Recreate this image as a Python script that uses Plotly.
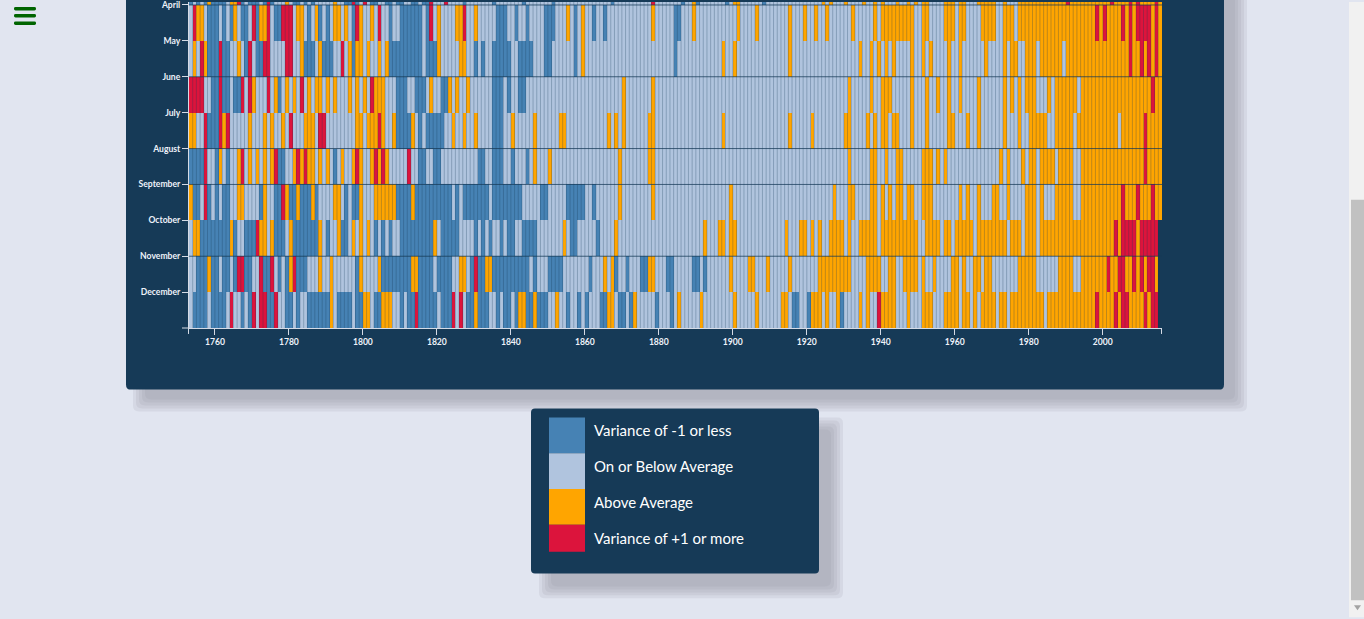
import plotly.graph_objects as go

# Monthly temperature variance category, one letter per year from 1753.
# D = variance of -1 or less, L = on or below average,
# O = above average, R = variance of +1 or more
years = list(range(1753, 2016))
month_names = ["January", "February", "March", "April", "May", "June", "July",
               "August", "September", "October", "November", "December"]

mar_cells = ["DLDLDODDDD", "LOORDLDDDL", "DRDLLLOLDD", "LDLDLLLLLO", "LLDDRDLRLD", "DLLDDLDDLL", "DDLDDR",
             "LLLRLLLLDL", "LLLLLLDLLL", "LLLLDLLLLL", "LLDLLLLLLL", "LLLLLLLLDL", "LLLLLLLLLR", "LLLLLL",
             "LDLLODLLLL", "LLLDLOOLLL", "LLLDLLLLLL", "LLLLLLLLLO", "LOLLLOLLLL", "OLLOLOLLLO", "LLOLOL",
             "OOLLLLOOOL", "OOLLLOOOOO", "LLOLLLOOOO", "OOOOOOOOOR", "OOOOOOOOOO", "OROOOORORO", "OOORO"]
apr_cells = ["LROOLDDDLD", "LDOLDDLRDO", "ORLDDRRRLO", "OLDLODLDLO", "OLOLDROLLO", "LRLLDLLDDD", "DDDLDR",
             "LOLLLLOORL", "LOLLLLLDDD", "LLDLLDLLLL", "DDDLLLOLDL", "OLLDLLDLLL", "LLLLLLLLLO", "LLLLLD",
             "DLLLOLLLLL", "LLLLLLOLLL", "LOLLLLLLLL", "OLLLOLLOLL", "OLLLLLLOLL", "LLLOLOOOOO", "OOOOLL",
             "OOLLLLOOOL", "OOLLLLOOOO", "LLOOOLOOOO", "OOOOOOOOOO", "OOOOOOOROR", "OOOORORORR", "RRORO"]
may_cells = ["LOLRODDDRD", "DLLOLDRLDD", "RRLLLLRRLL", "ODDDLODDDL", "LRLODOOLOL", "LOLODDDDDD", "DDDLDD",
             "DOLLLLLOOL", "LDLDLLDDDD", "DLLDDDDLLL", "DDLLLLLLDL", "OLLLLLLLLL", "LLLLLLLLLL", "LLLLLD",
             "LLLLLLLLLL", "LLOLLOLLLL", "LLLLLLLLLL", "OLLLLLLLLL", "LLLLLLLLLO", "LLOLOLOLOL", "LLLOLL",
             "OLOLLLLOLL", "OLLLLLLOLL", "LLOLOOLLOO", "OLOOOOOOLO", "OOOOOOOOOO", "OOOOOOROOR", "ORORO"]
jun_cells = ["RRRRLLDDRD", "DLDDRLROLL", "LRLODLOLOL", "RLOLOOLOLO", "LLLOLOLOLR", "OOOLLLDDDL", "LDDDLO",
             "LLDDOLOLLO", "LLLLLLDDDL", "DLLDDLLLLL", "LLLLLLLLLL", "LLLLLLLLLL", "LOLLLLLLLO", "LLLLLL",
             "LLLLLLLLLL", "LLLLLLLLLL", "LLLLLLLLLL", "LLLLLLLLLL", "LLLLLLOLLL", "LLOLLOOOLL", "LLLOLL",
             "LOLLOLLOLL", "OLLLLOLLLL", "LLOLOLOLOO", "OLLLOLOOOO", "OOLOOOOOOO", "OOOOOOOOOO", "OOROO"]
jul_cells = ["OOLLRDDDRO", "RLLLLLOLLL", "OLOLLOLRLL", "LOOOLRRLLL", "LLLLLOOLOO", "OROLLODDDD", "OLDLDD",
             "DDDLLOLLOL", "LOLLLLDDDL", "LOLLLLLOLL", "LLLLOOLLLL", "LLLLLLLOLO", "LOLLLLLLOO", "LLLLLL",
             "LLLLLLLLLL", "LLOLLLLLLL", "LLLLLLLLLL", "OLLLLLOLLL", "LLLLLOOLLL", "LOLOLOOLOO", "LLLOLL",
             "LOLLLLLOOL", "LLOLLOLLLL", "LLOLLLOLLO", "OOOOLLOOOO", "OLOOOOOOOO", "OOOLOOOOOO", "ROOOO"]
aug_cells = ["DDDDRLLDOL", "DLLORLOLOL", "OLORDDLLOR", "OROOLOLOLD", "LOLLOROLLO", "ROROLLLLLR", "LLDDLL",
             "DDLLLLLLLL", "LLDDLLDDDL", "LDLLLDLOLL", "LOLLLLLLLL", "LLLLLLLLLL", "OLLLLLLLOO", "LLLLLL",
             "LLLLLLLLLL", "LLLLLLLLLL", "LLLLLLLLLL", "LLLLLLLLLL", "LLLLLLOLLL", "LLOOLLOLLO", "OLLLLL",
             "OOOLOLOLLL", "LLLLLLLLLL", "LOLOLLLOLO", "OLOOOOLOOO", "OLLOOOOOOO", "OOOOOOOOOO", "ROOOO"]
sep_cells = ["ODDLRDLDLD", "DLLOOLLLLD", "OLLDDRODDO", "DDDODLLLLO", "OLDLDDOLLL", "OOOOOODDDD", "ODDDDD",
             "DDDDDLDLDD", "DDDDDLDDDD", "DDDDLLLLLD", "DLLLLLDDDD", "DLLDLLLLLL", "OLLLLLLLLO", "LLLLLL",
             "LLLLLLLLLL", "LLLLOLLLLL", "LLLLLLLLLL", "LLLLLLLLLL", "LLOLLLOOLL", "LLOOLOLOLO", "OLOOLL",
             "OOOLLLLLLL", "OLOLLOLLLO", "OLLOLLLLOO", "OLOLLLOOOO", "OLLOOOOOOO", "OOOOROOORO", "OOROO"]
oct_cells = ["LOODDDDDDD", "DODLLDDDRO", "OLODDDLODD", "DDDDDOLDLL", "ODDLOLOLOL", "DLDLDLLDDD", "DDDDDD",
             "OLDDDDDLLL", "LDLDLDLLDL", "DDLLDDDDLL", "LLLLLOLDDL", "LLLLDLLLLO", "LLLLLLLLLL", "LLLLLL",
             "LLLLLLLOLL", "LOOLOOLLLL", "LLLLLLLLLO", "LLLOOLOLOL", "LOOOOLOLLO", "OOOOLOOOOO", "OOOOOL",
             "LOOOOLOOLO", "OOOOLOOOOO", "OOOLOOOLOO", "OLOOOOOOOO", "OOOOOOOOOO", "OORORRRROR", "RRRR"]
nov_cells = ["LLDDDODDLD", "DLDRRDDLLR", "DDRLDLDORD", "DDLLLOLLOL", "LLLLLDOLLL", "LODDDDDDDD", "OODDDD",
             "LDDDDLLOOL", "DRDDOODDDD", "DDDDDDLDLL", "LDDDDLLLLL", "LLDLLLOLOD", "LLDLLLDDOO", "LLLDDL",
             "LLLLDDLDLL", "LLLLOLLLLO", "OLLLOLLLLL", "OLLLLLLLOO", "OOOOOOOLLL", "LOOOOLLOOL", "LOOOOL",
             "OLLOLLLLOO", "LOLLOOLOOL", "LLLLLLOOOO", "OLLLLLLOOO", "OLLOOOOOOO", "ROORROOROR", "ORRO"]
dec_cells = ["LDDDDLDDDD", "LRLLDLDRLR", "RDDRLLDDLD", "LLDDDDDDOL", "DDDDLDDOOL", "DDOOOLLDLD", "DRDDDD",
             "DLDDDRLRLD", "DODDDLLDLD", "DLDOODDODD", "DLLOLLDLLD", "LDLLLDDOOL", "DDLDOLLLLL", "DLLLDL",
             "OLLLLLOLLL", "LLLLLOLLLL", "LOLLLLLLOO", "LDDLLDOOOL", "OLLODLLLLO", "LOLLROOOOL", "LLOLLL",
             "OOOLLLOOOO", "LOOLOLOOOO", "LOOLOOOOOO", "OOOLOOOOOO", "OOOOOOOROO", "OORORROOOO", "RORR"]

shown_months = [3, 4, 5, 6, 7, 8, 9, 10, 11, 12]
month_cells = [mar_cells, apr_cells, may_cells, jun_cells, jul_cells, aug_cells,
               sep_cells, oct_cells, nov_cells, dec_cells]

legend_labels = ["Variance of -1 or less", "On or Below Average",
                 "Above Average", "Variance of +1 or more"]
legend_colors = ["#4682b4", "#b0c4de", "#ffa500", "#dc143c"]
codes = {"D": 0, "L": 1, "O": 2, "R": 3}

# build z rows (Oct-Dec 2015 not in the data)
z = []
missing = []
for m, cells in zip(shown_months, month_cells):
    row = "".join(cells)
    assert len(row) in (262, 263), (m, len(row))
    vals = [codes[c] for c in row]
    vals += [None] * (len(years) - len(vals))
    z.append(vals)
    missing.append([1 if v is None else None for v in vals])

colorscale = []
for i, col in enumerate(legend_colors):
    colorscale.append([i / 4, col])
    colorscale.append([(i + 1) / 4, col])

NAVY = "#163a57"
PAGE = "#e1e5f0"
AXIS = "#d5dbe6"

# plot area in page pixels
L, R, T, B = 189, 1162, 0, 328
W, H = 1364, 619


def px_x(p):
    return (p - L) / (R - L)


def px_y(p):
    return (B - p) / (B - T)


def rounded(x0, y0, x1, y1, r):
    pts = [("M", [(x0 + r, y0)]), ("L", [(x1 - r, y0)]), ("Q", [(x1, y0), (x1, y0 + r)]),
           ("L", [(x1, y1 - r)]), ("Q", [(x1, y1), (x1 - r, y1)]),
           ("L", [(x0 + r, y1)]), ("Q", [(x0, y1), (x0, y1 - r)]),
           ("L", [(x0, y0 + r)]), ("Q", [(x0, y0), (x0 + r, y0)])]
    s = ""
    for cmd, ps in pts:
        s += cmd + " ".join("%.5f,%.5f" % (px_x(a), px_y(b)) for a, b in ps) + " "
    return s + "Z"


def box(x0, y0, x1, y1, color, r=0, layer="below", opacity=1):
    if r:
        return dict(type="path", path=rounded(x0, y0, x1, y1, r), xref="paper", yref="paper",
                    fillcolor=color, line_width=0, layer=layer, opacity=opacity)
    return dict(type="rect", x0=px_x(x0), x1=px_x(x1), y0=px_y(y0), y1=px_y(y1),
                xref="paper", yref="paper", fillcolor=color, line_width=0,
                layer=layer, opacity=opacity)


def shadow(x0, y0, x1, y1, dx, dy):
    out = []
    for g in [8, 5, 2, -1, -4]:
        out.append(box(x0 + dx - g, y0 + dy - g, x1 + dx + g, y1 + dy + g,
                       "#8b8d9b", r=6, opacity=0.14))
    return out


shapes = []
shapes += shadow(126, -40, 1224, 390, 15, 14)
shapes.append(box(126, -40, 1224, 390, NAVY, r=5))
shapes += shadow(531, 409, 819, 575, 16, 17)
shapes.append(box(531, 409, 819, 575, NAVY, r=4))

# legend swatches
sw_y = [418, 454, 490, 526, 553]
for i, col in enumerate(legend_colors):
    shapes.append(box(549, sw_y[i], 585, sw_y[i + 1], col))

# outer ticks of the axis domains
shapes.append(dict(type="line", xref="paper", yref="paper", x0=px_x(1161.5), x1=px_x(1161.5),
                   y0=px_y(328), y1=px_y(334), line=dict(color=AXIS, width=1), layer="above"))
shapes.append(dict(type="line", xref="paper", yref="paper", x0=px_x(188.5), x1=px_x(188.5),
                   y0=px_y(328), y1=px_y(334), line=dict(color=AXIS, width=1), layer="above"))
shapes.append(dict(type="line", xref="paper", yref="paper", x0=px_x(182), x1=px_x(189),
                   y0=px_y(328), y1=px_y(328), line=dict(color=AXIS, width=1), layer="above"))

# row separator strokes seen on some band edges
for m in [4, 6, 8, 9, 11]:
    shapes.append(dict(type="line", xref="paper", yref="y", x0=0, x1=1, y0=m - 1, y1=m - 1,
                       line=dict(color="rgba(22,58,87,0.75)", width=1), layer="above"))

# hamburger menu
for y0 in [5, 12, 19.5]:
    shapes.append(box(14, y0, 36, y0 + 3.6, "#006400", r=1.5, layer="above"))

# browser scrollbar
shapes.append(box(1349, 0, 1364, 619, "#f1f1f1", layer="above"))
shapes.append(box(1351, 199, 1364, 602, "#c1c1c1", layer="above"))
shapes.append(dict(type="path", xref="paper", yref="paper", layer="above",
                   path="M%.5f,%.5f L%.5f,%.5f L%.5f,%.5f Z" % (
                       px_x(1354), px_y(607), px_x(1361), px_y(607), px_x(1357.5), px_y(612)),
                   fillcolor="#a3a3a3", line_width=0))

annotations = []
text_y = [431, 467, 503, 539]
for lab, ty in zip(legend_labels, text_y):
    annotations.append(dict(text=lab, xref="paper", yref="paper", x=px_x(592), y=px_y(ty),
                            xanchor="left", yanchor="middle", showarrow=False,
                            font=dict(family="Lato", size=15, color="#ffffff")))

fig = go.Figure()
xc = [y + 0.5 for y in years]
yc = [m - 0.5 for m in shown_months]
fig.add_trace(go.Heatmap(x=xc, y=yc, z=z, zmin=-0.5, zmax=3.5, colorscale=colorscale,
                         showscale=False, hoverinfo="skip"))
fig.add_trace(go.Heatmap(x=xc, y=yc, z=missing, colorscale=[[0, NAVY], [1, NAVY]],
                         showscale=False, hoverinfo="skip"))

# thin cell borders between years
gx, gy = [], []
for yv in years[1:]:
    gx += [yv, yv, None]
    gy += [2, 12, None]
fig.add_trace(go.Scatter(x=gx, y=gy, mode="lines", hoverinfo="skip", showlegend=False,
                         line=dict(color="rgba(22,58,87,0.28)", width=1)))

tick_font = dict(family="Lato", size=8.6, color="#eef2fa", weight="bold")
fig.update_layout(
    width=W, height=H,
    margin=dict(l=L, r=W - R, t=T, b=H - B),
    paper_bgcolor=PAGE, plot_bgcolor=NAVY,
    showlegend=False,
    shapes=shapes, annotations=annotations,
    xaxis=dict(range=[1753, 2016], tickvals=list(range(1760, 2001, 20)),
               ticks="outside", ticklen=6, tickcolor=AXIS, showline=True,
               linecolor=AXIS, linewidth=1, showgrid=False, zeroline=False,
               tickfont=tick_font, ticklabeloverflow="allow"),
    yaxis=dict(range=[12, 3 - 3 / 36.1], tickvals=list(range(12)), ticktext=month_names,
               ticks="outside", ticklen=6, tickcolor=AXIS, showline=True,
               linecolor=AXIS, linewidth=1, showgrid=False, zeroline=False,
               tickfont=tick_font, ticklabeloverflow="allow"),
)

# the page body has a default 8px margin; drop it so the figure fills the window
fig.write_html("out.html", config={"displayModeBar": False},
               post_script="document.body.style.margin='0';"
                           "document.body.style.overflow='hidden';")
